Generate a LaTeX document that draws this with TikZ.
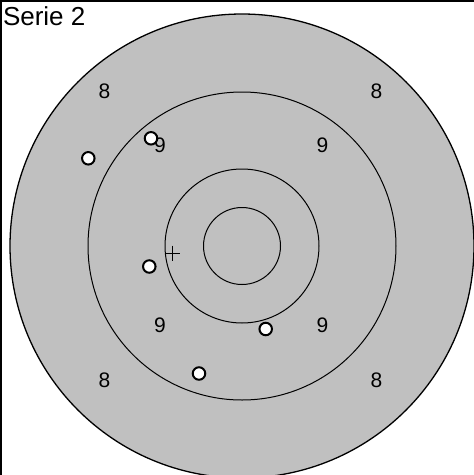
\documentclass[tikz,border=0pt]{standalone}
\usepackage{fontspec}
\setmainfont{Liberation Sans}
\usetikzlibrary{calc}
\definecolor{targetgrey}{RGB}{192,192,192}
\begin{document}
\begin{tikzpicture}[x=1pt,y=-1pt,
  ring/.style={draw=black, line width=1pt},
  shot/.style={circle, draw=black, fill=white, line width=2pt, minimum size=12.5pt, inner sep=0pt},
  lbl/.style={font=\fontsize{21}{21}\selectfont, inner sep=0pt}]
\useasboundingbox (0,0) rectangle (474,475);
\clip (0,0) rectangle (474,475);
\fill[white] (0,0) rectangle (474,475);
\coordinate (c) at (242,246);
\draw[fill=targetgrey, line width=1.3pt] (c) circle (232pt);
\draw[ring] (c) circle (154pt);
\draw[ring] (c) circle (77pt);
\draw[ring] (c) circle (38.5pt);
\draw[line width=2pt] (1.3,1) rectangle (520,520);
\node[anchor=base west, inner sep=0pt, font=\fontsize{26}{26}\selectfont] (title) at (2.8,25.8) {Serie 2};
\node[lbl] (e1) at (104.5,91) {8};
\node[lbl] (e2) at (376.5,91) {8};
\node[lbl] (e3) at (104.5,380) {8};
\node[lbl] (e4) at (376.5,380) {8};
\node[lbl] (n1) at (160,145) {9};
\node[lbl] (n2) at (322.5,145) {9};
\node[lbl] (n3) at (160,325) {9};
\node[lbl] (n4) at (322.5,325) {9};
\coordinate (p) at (172.5,253);
\draw[line width=1pt] ($(p)+(-7.5,0)$) -- ($(p)+(7.5,0)$);
\draw[line width=1pt] ($(p)+(0,-7.5)$) -- ($(p)+(0,7.5)$);
\node[shot] (s1) at (88.3,158.3) {};
\node[shot] (s2) at (151,138.3) {};
\node[shot] (s3) at (149.3,266.5) {};
\node[shot] (s4) at (265.7,329) {};
\node[shot] (s5) at (199,373.5) {};
\end{tikzpicture}
\end{document}
